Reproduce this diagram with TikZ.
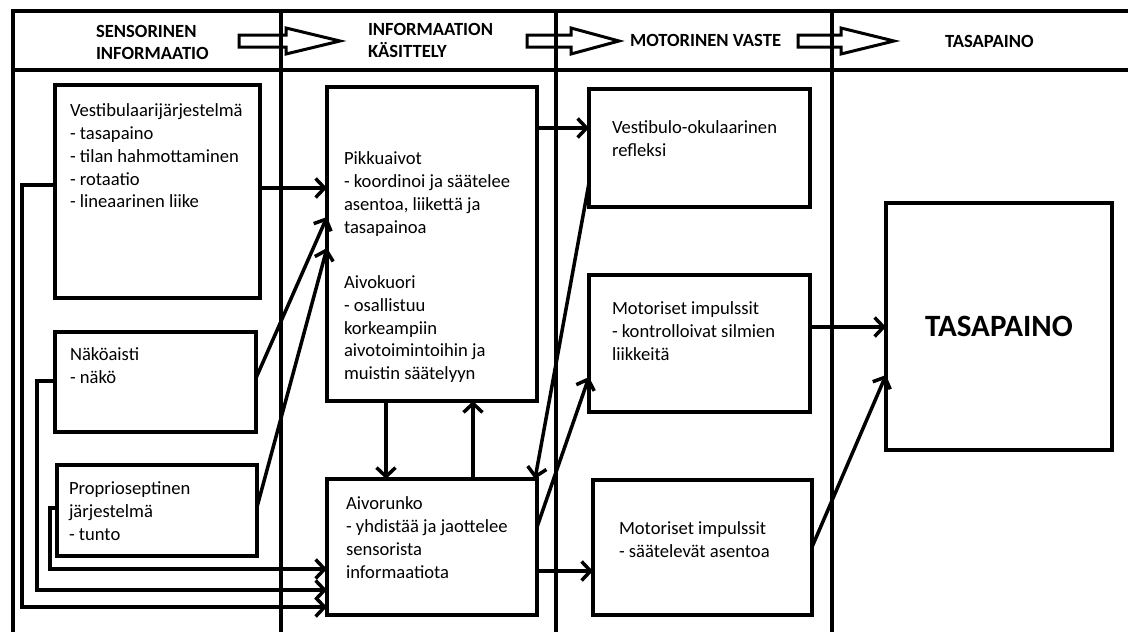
\documentclass[tikz,border=0pt]{standalone}
\usepackage{fontspec}
\setmainfont{Carlito}
\usetikzlibrary{arrows.meta,calc}
\begin{document}
\begin{tikzpicture}[x=1pt,y=-1pt,
  every node/.style={inner sep=0pt, outer sep=0pt},
  frame/.style={line width=3.5pt},
  box/.style={draw, line width=4pt, anchor=north west},
  txt/.style={anchor=north west, align=left, font=\fontsize{18.6}{22.7}\selectfont, execute at begin node=\strut},
  htxt/.style={txt, font=\bfseries\fontsize{18.6}{22.7}\selectfont},
  conn/.style={line width=3.5pt, -{Straight Barb[length=9pt,width=19pt]}},
  blockarrow/.style={draw, line width=3pt, line join=miter},
]
\useasboundingbox (0,0) rectangle (1128,632);
% frame
\draw[frame] (1128,11) -- (13,11) -- (13,632);
\draw[frame] (13,70) -- (1128,70);
\draw[frame] (281,11) -- (281,632);
\draw[frame] (556,11) -- (556,632);
\draw[frame] (832,11) -- (832,632);
% header arrows
\foreach \sx/\hx/\tx in {239/286/340, 527/571/619, 798/841/894}{
  \draw[blockarrow] (\sx,35) -- (\hx,35) -- (\hx,28) -- (\tx,41) -- (\hx,54) -- (\hx,47) -- (\sx,47) -- cycle;
}
% header texts
\node[htxt] (h1) at (96,25) {SENSORINEN\\INFORMAATIO};
\node[htxt] (h2) at (368,23) {INFORMAATION\\KÄSITTELY};
\node[htxt] (h3) at (630,31) {MOTORINEN VASTE};
\node[htxt] (h4) at (945,32) {TASAPAINO};
% boxes
\node[box, minimum width=205, minimum height=213] (vest) at (55,85) {};
\node[box, minimum width=201, minimum height=100] (nako) at (55,332) {};
\node[box, minimum width=200, minimum height=91] (prop) at (57,465) {};
\node[box, minimum width=210, minimum height=314] (pikku) at (327,87) {};
\node[box, minimum width=210, minimum height=136] (aiv) at (327,479) {};
\node[box, minimum width=221, minimum height=118] (vo) at (589,89) {};
\node[box, minimum width=221, minimum height=137] (m1) at (589,275) {};
\node[box, minimum width=219, minimum height=135] (m2) at (593,480) {};
\node[box, minimum width=226, minimum height=247, font=\bfseries\fontsize{31}{36}\selectfont] (tas) at (886,203) {TASAPAINO};
% box texts
\node[txt] (vest-t) at (70,104) {Vestibulaarijärjestelmä\\- tasapaino\\- tilan hahmottaminen\\- rotaatio\\- lineaarinen liike};
\node[txt] (nako-t) at (70,348) {Näköaisti\\- näkö};
\node[txt] (prop-t) at (69,482) {Proprioseptinen\\järjestelmä\\- tunto};
\node[txt] (pikku-t) at (344,152) {Pikkuaivot\\- koordinoi ja säätelee\\asentoa, liikettä ja\\tasapainoa\\[33pt]Aivokuori\\- osallistuu\\korkeampiin\\aivotoimintoihin ja\\muistin säätelyyn};
\node[txt] (aiv-t) at (346,497) {Aivorunko\\- yhdistää ja jaottelee\\sensorista\\informaatiota};
\node[txt] (vo-t) at (612,121) {Vestibulo-okulaarinen\\refleksi};
\node[txt] (m1-t) at (612,302) {Motoriset impulssit\\- kontrolloivat silmien\\liikkeitä};
\node[txt] (m2-t) at (619,522) {Motoriset impulssit\\- säätelevät asentoa};
% routes to Aivorunko
\draw[conn] ($(vest.north west)+(0,100)$) -| (22,607) -- ($(aiv.south west)+(0,-8)$);
\draw[conn] ($(nako.north west)+(0,49)$) -| (37,590) -- ($(aiv.south west)+(0,-25)$);
\draw[conn] ($(prop.north west)+(0,43)$) -| (50,569) -- ($(aiv.south west)+(0,-46)$);
% to Pikkuaivot
\draw[conn] ($(vest.north east)+(0,103)$) -- ($(pikku.north west)+(0,101)$);
\draw[conn] ($(nako.north east)+(0,46)$) -- ($(pikku.north west)+(0,130)$);
\draw[conn] ($(prop.north east)+(0,42)$) -- ($(pikku.north west)+(0,161)$);
% between Pikkuaivot and Aivorunko
\draw[conn] ($(pikku.south west)+(59,0)$) -- ($(aiv.north west)+(59,0)$);
\draw[conn] ($(aiv.north west)+(146,0)$) -- ($(pikku.south west)+(146,0)$);
% to motor column
\draw[conn] ($(pikku.north east)+(0,41)$) -- ($(vo.north west)+(0,39)$);
\draw[conn] ($(vo.north west)+(0,94)$) -- ($(aiv.north east)+(-2,0)$);
\draw[conn] ($(aiv.north east)+(0,48)$) -- ($(m1.north west)+(0,102)$);
\draw[conn] ($(aiv.north east)+(0,92)$) -- ($(m2.north west)+(0,91)$);
% to TASAPAINO
\draw[conn] ($(m1.north east)+(0,52)$) -- ($(tas.north west)+(0,124)$);
\draw[conn] ($(m2.north east)+(0,67)$) -- ($(tas.north west)+(0,172)$);
\end{tikzpicture}
\end{document}
